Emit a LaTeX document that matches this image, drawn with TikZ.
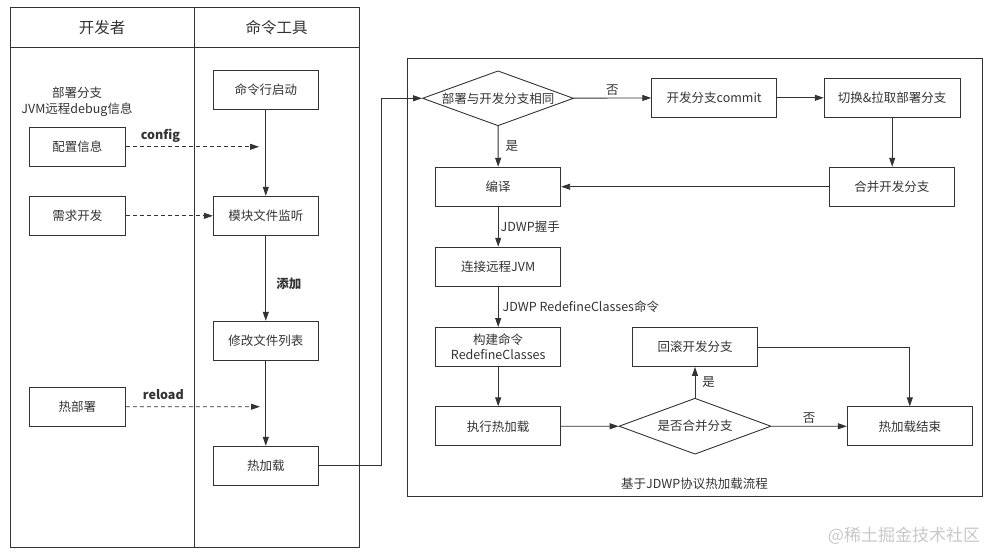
\documentclass[tikz,border=0pt]{standalone}
\usepackage{fontspec}
\setmainfont{Noto Sans CJK SC}
\usetikzlibrary{arrows.meta,positioning,shapes.geometric}
\definecolor{inkgray}{HTML}{333333}
\definecolor{markgray}{HTML}{C8C8C8}
\tikzset{
  flow box/.style={
    rectangle, draw=inkgray, line width=0.9pt, text=inkgray,
    align=center, minimum width=125pt, minimum height=39pt,
    inner sep=2pt, font=\fontsize{12.5}{15}\selectfont
  },
  lane box/.style={flow box, minimum width=96pt},
  tool box/.style={flow box, minimum width=105pt},
  decision/.style={
    diamond, draw=inkgray, line width=0.9pt, text=inkgray,
    aspect=2.75, inner sep=0pt, minimum width=151pt, minimum height=55pt,
    font=\fontsize{12.5}{15}\selectfont
  },
  flow arrow/.style={-{Triangle[length=9pt,width=6pt]}, line width=0.9pt, inkgray},
  dash arrow/.style={flow arrow, dash pattern=on 4pt off 3pt},
  edge label/.style={text=inkgray, inner sep=2pt, font=\fontsize{12.5}{15}\selectfont},
  bold label/.style={edge label, font=\fontsize{12.5}{15}\selectfont\bfseries}
}

\begin{document}
\begin{tikzpicture}[x=1pt,y=-1pt]
    \useasboundingbox (0,0) rectangle (991,552);
    % swimlanes
    \draw[line width=0.9pt, inkgray] (10,7.5) rectangle (359,547);
    \draw[line width=0.9pt, inkgray] (10,47) -- (359,47);
    \draw[line width=0.9pt, inkgray] (194.3,7.5) -- (194.3,547);
    \node[text=inkgray, font=\fontsize{15.5}{18}\selectfont] (devhead) at (102,27.5) {开发者};
    \node[text=inkgray, font=\fontsize{15.5}{18}\selectfont] (toolhead) at (276.5,27.5) {命令工具};

    % developer lane
    \node[edge label, align=center, font=\fontsize{12.5}{16}\selectfont] (devinfo) at (77,101.5) {部署分支\\JVM远程debug信息};
    \node[lane box] (config) at (77.3,146.8) {配置信息};
    \node[lane box] (request) at (77.3,215.8) {需求开发};
    \node[lane box] (deploy) at (77.3,406.8) {热部署};

    % tool lane
    \node[tool box] (cmdstart) at (265.8,89.8) {命令行启动};
    \node[tool box] (watch) at (265.8,215.8) {模块文件监听};
    \node[tool box] (modlist) at (265.8,340.7) {修改文件列表};
    \node[tool box] (hotload) at (265.8,465.8) {热加载};
    \coordinate (configend) at (259,146.8);
    \coordinate (reloadend) at (260,406.7);
    \coordinate (turn) at (381.7,465.8);

    % JDWP flow
    \draw[line width=0.9pt, inkgray] (407.5,58.5) rectangle (982.3,496.3);
    \node[decision] (samebranch) at (498,98.3) {部署与开发分支相同};
    \node[flow box] (commit) at (714.2,97.8) {开发分支commit};
    \node[flow box, minimum width=136pt] (switch) at (892.2,97.8) {切换\&拉取部署分支};
    \node[flow box] (compile) at (498.2,186.7) {编译};
    \node[flow box] (merge) at (891.8,186.7) {合并开发分支};
    \node[flow box] (connect) at (498.2,266.7) {连接远程JVM};
    \node[flow box, align=center, font=\fontsize{12.5}{14.5}\selectfont] (build) at (498.2,347) {构建命令\\RedefineClasses};
    \node[flow box] (execute) at (498.2,426.3) {执行热加载};
    \node[flow box] (rollback) at (695,347) {回滚开发分支};
    \node[decision, minimum width=152pt, minimum height=56pt] (ismerge) at (695,426.2) {是否合并分支};
    \node[flow box] (finish) at (909.8,426.3) {热加载结束};
    \node[edge label] (caption) at (694.5,483.3) {基于JDWP协议热加载流程};
    \node[text=markgray, font=\fontsize{17}{20}\selectfont] (watermark) at (904,535.7) {@稀土掘金技术社区};

    \draw[flow arrow] (cmdstart) -- (watch);
    \draw[dash arrow] (config) -- (configend) node[bold label, pos=0.26, anchor=base, yshift=7.5pt] {config};
    \draw[dash arrow] (request) -- (watch);
    \draw[flow arrow] (watch) -- (modlist) node[bold label, pos=0.57, right, xshift=8pt] {添加};
    \draw[flow arrow] (modlist) -- (hotload);
    \draw[dash arrow] (deploy) -- (reloadend) node[bold label, pos=0.28, anchor=base, yshift=7.5pt] {reload};
    \draw[flow arrow] (hotload) -- (turn) |- (samebranch);

    \draw[flow arrow] (samebranch) -- (commit) node[edge label, midway, above] {否};
    \draw[flow arrow] (commit) -- (switch);
    \draw[flow arrow] (switch.south) -- (switch.south |- merge.north);
    \draw[flow arrow] (merge) -- (compile);
    \draw[flow arrow] (samebranch) -- (compile) node[edge label, midway, right, xshift=5pt] {是};
    \draw[flow arrow] (compile) -- (connect) node[edge label, midway, right] {JDWP握手};
    \draw[flow arrow] (connect) -- (build) node[edge label, midway, right, xshift=2pt] {JDWP RedefineClasses命令};
    \draw[flow arrow] (build) -- (execute);
    \draw[flow arrow] (execute) -- (ismerge);
    \draw[flow arrow] (ismerge) -- (rollback) node[edge label, midway, right, xshift=5pt] {是};
    \draw[flow arrow] (ismerge) -- (finish) node[edge label, midway, above] {否};
    \draw[flow arrow] (rollback) -| (finish);
  \end{tikzpicture}
\end{document}
